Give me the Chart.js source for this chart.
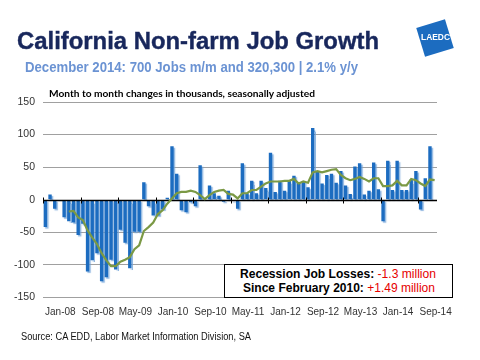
<!DOCTYPE html>
<html><head><meta charset="utf-8">
<script src="https://cdn.jsdelivr.net/npm/chart.js@4"></script>
<style>
html,body{margin:0;padding:0;background:#fff;}
#wrap{position:relative;width:480px;height:360px;overflow:hidden;font-family:"Liberation Sans",Arial,sans-serif;}
#c{position:absolute;left:0;top:0;}
.t{position:absolute;white-space:nowrap;transform-origin:0 0;line-height:1;}
#box{position:absolute;left:224px;top:264px;width:229px;height:34px;box-sizing:border-box;border:1px solid #000;background:#fff;}
#logo{position:absolute;left:420px;top:23px;width:30px;height:30px;background:#1c6cc0;transform:rotate(-17deg);}
.red{color:#e60000;font-weight:normal;}
</style></head><body>
<div id="wrap">
<canvas id="c" width="480" height="360"></canvas>
<div id="logo"></div>
<div class="t" data-w="29" style="left:421px;top:33px;font-size:8.5px;font-weight:bold;color:#fff;">LAEDC</div>
<div class="t" data-w="362" style="left:17px;top:29px;font-size:24px;font-weight:bold;color:#18275c;-webkit-text-stroke:0.4px #18275c;">California Non-farm Job Growth</div>
<div class="t" data-w="333" style="left:25px;top:60px;font-size:14px;font-weight:bold;color:#6b93d3;">December 2014: 700 Jobs m/m and 320,300 | 2.1% y/y</div>
<div class="t" data-w="266" style="left:49px;top:88px;font-size:10px;font-weight:bold;color:#000;font-family:Lato,sans-serif;">Month to month changes in thousands, seasonally adjusted</div>
<div id="box"></div>
<div class="t" data-w="196" style="left:240px;top:268px;font-size:12px;font-weight:bold;color:#000;">Recession Job Losses: <span class="red">-1.3 million</span></div>
<div class="t" data-w="192" style="left:243px;top:282px;font-size:12px;font-weight:bold;color:#000;">Since February 2010: <span class="red">+1.49 million</span></div>
<div class="t" data-w="230" style="left:21px;top:332px;font-size:10px;color:#111;">Source: CA EDD, Labor Market Information Division, SA</div>
</div>
<script>
const months = [
"Jan-08","Feb-08","Mar-08","Apr-08","May-08","Jun-08","Jul-08","Aug-08","Sep-08","Oct-08","Nov-08","Dec-08",
"Jan-09","Feb-09","Mar-09","Apr-09","May-09","Jun-09","Jul-09","Aug-09","Sep-09","Oct-09","Nov-09","Dec-09",
"Jan-10","Feb-10","Mar-10","Apr-10","May-10","Jun-10","Jul-10","Aug-10","Sep-10","Oct-10","Nov-10","Dec-10",
"Jan-11","Feb-11","Mar-11","Apr-11","May-11","Jun-11","Jul-11","Aug-11","Sep-11","Oct-11","Nov-11","Dec-11",
"Jan-12","Feb-12","Mar-12","Apr-12","May-12","Jun-12","Jul-12","Aug-12","Sep-12","Oct-12","Nov-12","Dec-12",
"Jan-13","Feb-13","Mar-13","Apr-13","May-13","Jun-13","Jul-13","Aug-13","Sep-13","Oct-13","Nov-13","Dec-13",
"Jan-14","Feb-14","Mar-14","Apr-14","May-14","Jun-14","Jul-14","Aug-14","Sep-14","Oct-14","Nov-14","Dec-14"];
const tickLabels = ["Jan-08","Sep-08","May-09","Jan-10","Sep-10","May-11","Jan-12","Sep-12","May-13","Jan-14","Sep-14"];
const yTicks = [-150,-100,-50,0,50,100,150];
const monthlyChange = [
-42,8,-14,-1,-27,-33,-35,-54,-37,-110,-93,-82,
-125,-119,-92,-107,-46,-66,-105,-49,-49,27,-10,-24,
-24,-15,3,82,40,-16,-19,-4,-10,53,2,22,
10,6,-3,14,-2,-14,56,10,29,10,29,18,
72,12,29,14,30,37,27,28,19,110,44,25,
38,40,26,44,22,9,51,56,8,14,57,16,
-33,60,15,60,15,15,31,44,-15,33,82,0.7];
const movingAvg = [
null,null,null,null,null,-18,-17,-27,-31,-47,-58,-68,
-82,-93,-102,-102,-95,-92,-88,-76,-70,-48,-42,-35,
-22,-16,-6,2,10,12,12,14,12,7,1,7,
12,14,15,9,8,2,10,10,15,15,20,25,
28,28,28,29,29,32,25,28,26,42,44,42,
44,46,47,38,33,30,32,35,32,28,33,33,
21,21,22,29,22,22,32,30,25,21,31,30];

const barColor = '#1c6cc0';
const lineColor = '#7b9945';

const barShadow = {
  id:'barShadow',
  beforeDatasetDraw(chart,args){
    if(args.index!==0) return;
    const ctx=chart.ctx;
    ctx.save();
    ctx.shadowColor='rgba(110,160,215,0.75)';
    ctx.shadowOffsetX=1.5; ctx.shadowOffsetY=1.5; ctx.shadowBlur=1;
  },
  afterDatasetDraw(chart,args){
    if(args.index!==0) return;
    chart.ctx.restore();
  }
};

const zeroAxis = {
  id:'zeroAxis',
  afterDatasetDraw(chart,args){
    if(args.index!==0) return;
    const ctx=chart.ctx, x=chart.scales.x, y=chart.scales.y, a=chart.chartArea;
    const y0=Math.round(y.getPixelForValue(0))+0.5;
    ctx.save();
    ctx.strokeStyle='#000'; ctx.lineWidth=1.3;
    ctx.beginPath(); ctx.moveTo(a.left,y0); ctx.lineTo(a.right,y0); ctx.stroke();
    ctx.lineWidth=1;
    const w=(x.getPixelForValue(1)-x.getPixelForValue(0));
    for(let j=0;j<months.length;j+=8){
      const px=Math.round(x.getPixelForValue(j)-w/2)+0.5;
      ctx.beginPath(); ctx.moveTo(px,y0-3); ctx.lineTo(px,y0+3); ctx.stroke();
    }
    ctx.restore();
  }
};

new Chart(document.getElementById('c'),{
  data:{
    labels:months,
    datasets:[
      {type:'bar',data:monthlyChange,backgroundColor:barColor,barPercentage:0.72,categoryPercentage:1,order:2},
      {type:'line',data:movingAvg,borderColor:lineColor,borderWidth:2.2,pointRadius:0,tension:0,order:1,fill:false}
    ]
  },
  options:{
    responsive:false,animation:false,
    layout:{padding:{top:102,right:43,bottom:0,left:0}},
    plugins:{legend:{display:false},tooltip:{enabled:false}},
    scales:{
      x:{
        grid:{display:false,drawTicks:false},border:{display:false},
        afterFit(s){s.height=62.5;},
        ticks:{autoSkip:false,maxRotation:0,minRotation:0,padding:9,labelOffset:15,color:'#333',
          font:{family:'"Liberation Sans", Arial',size:10},
          callback(v,i){const l=months[i];return tickLabels.includes(l)?l:'';}}
      },
      y:{
        min:-150,max:150,
        afterFit(s){s.width=43;},
        afterBuildTicks(s){s.ticks=yTicks.map(v=>({value:v}));},
        grid:{drawTicks:false,color:c=>c.tick&&c.tick.value===0?'rgba(0,0,0,0)':'#a0a0a0',lineWidth:1},
        border:{display:false},
        ticks:{padding:8,color:'#333',font:{family:'"Liberation Sans", Arial',size:10.5}}
      }
    }
  },
  plugins:[barShadow,zeroAxis]
});

document.querySelectorAll('[data-w]').forEach(el=>{
  const w=el.getBoundingClientRect().width;
  el.style.transform='scaleX('+(+el.dataset.w/w)+')';
});
</script>
</body></html>
